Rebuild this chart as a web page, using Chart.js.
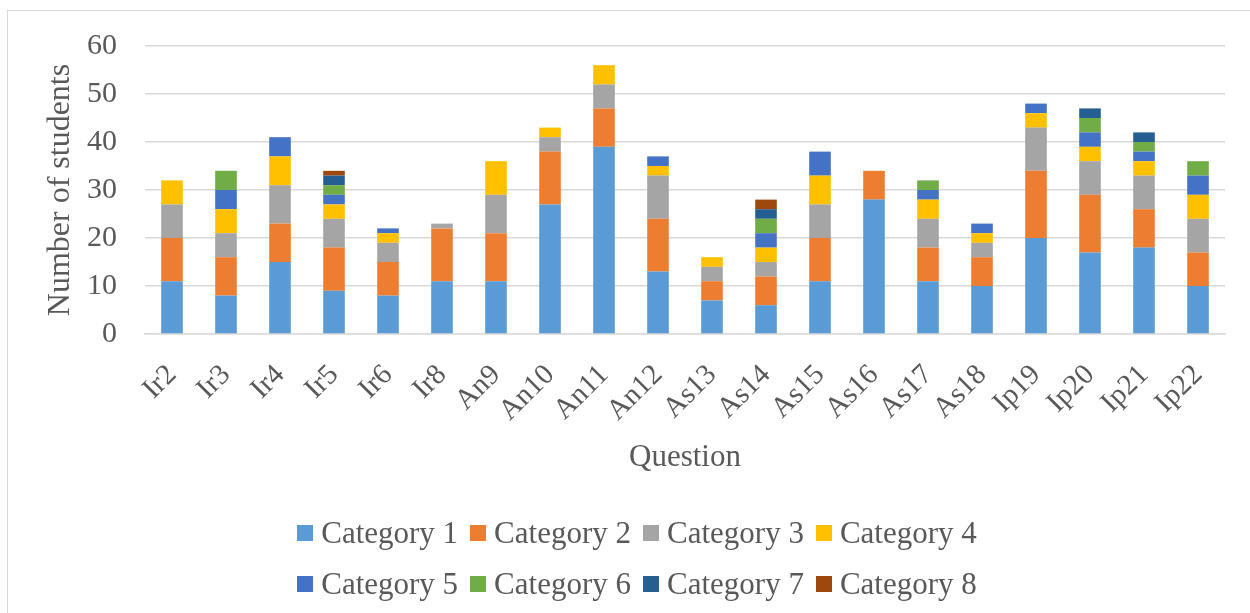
<!DOCTYPE html>
<html>
<head>
<meta charset="utf-8">
<script src="https://cdn.jsdelivr.net/npm/chart.js@4/dist/chart.umd.min.js"></script>
<style>
  html, body { margin: 0; padding: 0; background: #fff; overflow: hidden; }
  #wrap { position: relative; width: 1250px; height: 613px; overflow: hidden; }
  #frame { position: absolute; left: 7px; top: 10px; width: 1260px; height: 620px; border: 1px solid #d9d9d9; box-sizing: border-box; pointer-events: none; }
  #chart { position: absolute; left: 0; top: 0; }
  #legend { position: absolute; left: 0; top: 507px; width: 1250px; font-family: "Liberation Serif", "DejaVu Serif", serif; font-size: 31px; color: #595959; }
  .row { display: flex; justify-content: center; height: 51px; align-items: center; padding-left: 24px; box-sizing: border-box; width: 1250px; }
  .item { display: flex; align-items: center; margin: 0 6px; white-space: nowrap; }
  .box { width: 16px; height: 16px; margin-right: 8px; }
</style>
</head>
<body>
<div id="wrap">
  <canvas id="chart" width="1250" height="613"></canvas>
  <div id="frame"></div>
  <div id="legend"></div>
</div>
<script>
const categories = ['Ir2','Ir3','Ir4','Ir5','Ir6','Ir8','An9','An10','An11','An12','As13','As14','As15','As16','As17','As18','Ip19','Ip20','Ip21','Ip22'];
const seriesNames = ['Category 1','Category 2','Category 3','Category 4','Category 5','Category 6','Category 7','Category 8'];
const category1 = [11, 8,15, 9, 8,11,11,27,39,13, 7, 6,11,28,11,10,20,17,18,10];
const category2 = [ 9, 8, 8, 9, 7,11,10,11, 8,11, 4, 6, 9, 6, 7, 6,14,12, 8, 7];
const category3 = [ 7, 5, 8, 6, 4, 1, 8, 3, 5, 9, 3, 3, 7, 0, 6, 3, 9, 7, 7, 7];
const category4 = [ 5, 5, 6, 3, 2, 0, 7, 2, 4, 2, 2, 3, 6, 0, 4, 2, 3, 3, 3, 5];
const category5 = [ 0, 4, 4, 2, 1, 0, 0, 0, 0, 2, 0, 3, 5, 0, 2, 2, 2, 3, 2, 4];
const category6 = [ 0, 4, 0, 2, 0, 0, 0, 0, 0, 0, 0, 3, 0, 0, 2, 0, 0, 3, 2, 3];
const category7 = [ 0, 0, 0, 2, 0, 0, 0, 0, 0, 0, 0, 2, 0, 0, 0, 0, 0, 2, 2, 0];
const category8 = [ 0, 0, 0, 1, 0, 0, 0, 0, 0, 0, 0, 2, 0, 0, 0, 0, 0, 0, 0, 0];
const yTicks = [0, 10, 20, 30, 40, 50, 60];
const xTitle = 'Question';
const yTitle = 'Number of students';

const seriesValues = [category1, category2, category3, category4, category5, category6, category7, category8];
const colors = ['#5B9BD5','#ED7D31','#A5A5A5','#FFC000','#4472C4','#70AD47','#255E91','#9E480E'];
const serif = '"Liberation Serif", "DejaVu Serif", serif';
const textColor = '#595959';

const datasets = seriesValues.map((vals, i) => ({
  label: seriesNames[i],
  data: vals,
  backgroundColor: colors[i],
  borderWidth: 0,
  categoryPercentage: 1.0,
  barPercentage: 0.4
}));

new Chart(document.getElementById('chart'), {
  type: 'bar',
  data: { labels: categories, datasets },
  options: {
    responsive: false,
    animation: false,
    layout: { padding: { left: 0, right: 25, top: 41, bottom: 129 } },
    plugins: { legend: { display: false }, tooltip: { enabled: false } },
    scales: {
      x: {
        stacked: true,
        grid: { display: false, drawTicks: false },
        border: { display: true, color: '#d9d9d9', width: 1.5 },
        ticks: { color: textColor, font: { family: serif, size: 29 }, minRotation: 45, maxRotation: 45, padding: 24, autoSkip: false },
        title: { display: true, text: xTitle, color: textColor, font: { family: serif, size: 31 }, padding: { top: 0, bottom: 8 } },
        afterFit: (s) => { s.height = 150; }
      },
      y: {
        stacked: true,
        min: 0, max: 60,
        afterBuildTicks: (s) => { s.ticks = yTicks.map(v => ({ value: v })); },
        grid: { color: '#d9d9d9', lineWidth: 1.5, drawTicks: false },
        border: { display: false },
        ticks: { color: textColor, font: { family: serif, size: 30 }, padding: 28 },
        title: { display: true, text: yTitle, color: textColor, font: { family: serif, size: 32 }, padding: { top: 41, bottom: 0 } },
        afterFit: (s) => { s.width = 145; }
      }
    }
  }
});

// legend (two rows of four, as in the reference)
const legend = document.getElementById('legend');
for (let r = 0; r < 2; r++) {
  const row = document.createElement('div');
  row.className = 'row';
  for (let c = 0; c < 4; c++) {
    const i = r * 4 + c;
    const item = document.createElement('div');
    item.className = 'item';
    const box = document.createElement('span');
    box.className = 'box';
    box.style.background = colors[i];
    const txt = document.createElement('span');
    txt.textContent = seriesNames[i];
    item.appendChild(box);
    item.appendChild(txt);
    row.appendChild(item);
  }
  legend.appendChild(row);
}
</script>
</body>
</html>
